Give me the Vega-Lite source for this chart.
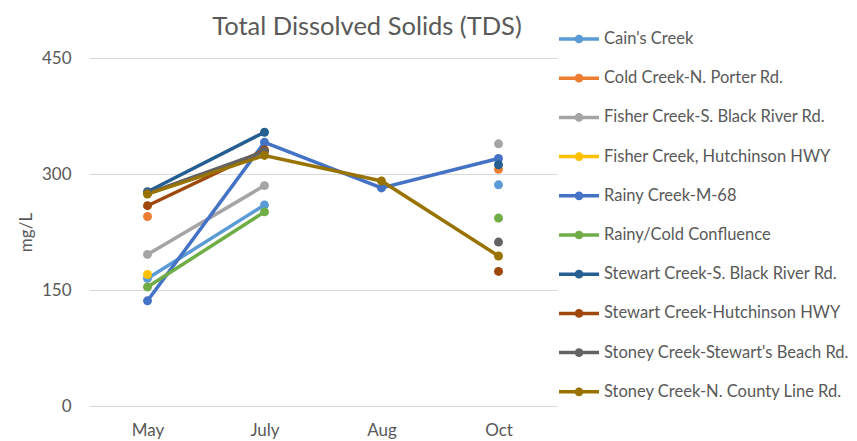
{
  "$schema": "https://vega.github.io/schema/vega-lite/v6.json",
  "width": 468,
  "height": 348,
  "autosize": "none",
  "padding": {"left": 89, "top": 58, "right": 300, "bottom": 35},
  "background": "white",
  "title": {
    "text": "Total Dissolved Solids (TDS)",
    "font": "Lato",
    "fontSize": 25.5,
    "fontWeight": "normal",
    "color": "#595959",
    "anchor": "middle",
    "frame": "group",
    "baseline": "alphabetic",
    "dx": 44,
    "dy": 26,
    "offset": -17
  },
  "data": {
    "values": [
      {"site": "Cain's Creek", "month": "May", "tds": 165},
      {"site": "Cain's Creek", "month": "July", "tds": 260},
      {"site": "Cain's Creek", "month": "Aug", "tds": null},
      {"site": "Cain's Creek", "month": "Oct", "tds": 286},
      {"site": "Cold Creek-N. Porter Rd.", "month": "May", "tds": 245},
      {"site": "Cold Creek-N. Porter Rd.", "month": "July", "tds": null},
      {"site": "Cold Creek-N. Porter Rd.", "month": "Aug", "tds": null},
      {"site": "Cold Creek-N. Porter Rd.", "month": "Oct", "tds": 306},
      {"site": "Fisher Creek-S. Black River Rd.", "month": "May", "tds": 196},
      {"site": "Fisher Creek-S. Black River Rd.", "month": "July", "tds": 285},
      {"site": "Fisher Creek-S. Black River Rd.", "month": "Aug", "tds": null},
      {"site": "Fisher Creek-S. Black River Rd.", "month": "Oct", "tds": 339},
      {"site": "Fisher Creek, Hutchinson HWY", "month": "May", "tds": 170},
      {"site": "Fisher Creek, Hutchinson HWY", "month": "July", "tds": null},
      {"site": "Rainy Creek-M-68", "month": "May", "tds": 136},
      {"site": "Rainy Creek-M-68", "month": "July", "tds": 341},
      {"site": "Rainy Creek-M-68", "month": "Aug", "tds": 282},
      {"site": "Rainy Creek-M-68", "month": "Oct", "tds": 320},
      {"site": "Rainy/Cold Confluence", "month": "May", "tds": 154},
      {"site": "Rainy/Cold Confluence", "month": "July", "tds": 251},
      {"site": "Rainy/Cold Confluence", "month": "Aug", "tds": null},
      {"site": "Rainy/Cold Confluence", "month": "Oct", "tds": 243},
      {"site": "Stewart Creek-S. Black River Rd.", "month": "May", "tds": 277},
      {"site": "Stewart Creek-S. Black River Rd.", "month": "July", "tds": 354},
      {"site": "Stewart Creek-S. Black River Rd.", "month": "Aug", "tds": null},
      {"site": "Stewart Creek-S. Black River Rd.", "month": "Oct", "tds": 312},
      {"site": "Stewart Creek-Hutchinson HWY", "month": "May", "tds": 259},
      {"site": "Stewart Creek-Hutchinson HWY", "month": "July", "tds": 331},
      {"site": "Stewart Creek-Hutchinson HWY", "month": "Aug", "tds": null},
      {"site": "Stewart Creek-Hutchinson HWY", "month": "Oct", "tds": 174},
      {"site": "Stoney Creek-Stewart's Beach Rd.", "month": "May", "tds": 275},
      {"site": "Stoney Creek-Stewart's Beach Rd.", "month": "July", "tds": 329},
      {"site": "Stoney Creek-Stewart's Beach Rd.", "month": "Aug", "tds": null},
      {"site": "Stoney Creek-Stewart's Beach Rd.", "month": "Oct", "tds": 212},
      {"site": "Stoney Creek-N. County Line Rd.", "month": "May", "tds": 274},
      {"site": "Stoney Creek-N. County Line Rd.", "month": "July", "tds": 324},
      {"site": "Stoney Creek-N. County Line Rd.", "month": "Aug", "tds": 291},
      {"site": "Stoney Creek-N. County Line Rd.", "month": "Oct", "tds": 194}
    ]
  },
  "encoding": {
    "x": {
      "field": "month",
      "type": "ordinal",
      "sort": ["May", "July", "Aug", "Oct"],
      "scale": {"type": "point", "padding": 0.5},
      "axis": {
        "title": null,
        "labelAngle": 0,
        "domain": false,
        "ticks": false,
        "labelPadding": 16,
        "labelFontSize": 17,
        "labelColor": "#595959",
        "labelFont": "Lato"
      }
    },
    "y": {
      "field": "tds",
      "type": "quantitative",
      "scale": {"domain": [0, 450], "nice": false},
      "axis": {
        "title": "mg/L",
        "titleFont": "Lato",
        "titleFontSize": 17,
        "titleFontWeight": "normal",
        "titleColor": "#595959",
        "titlePadding": 6,
        "values": [0, 150, 300, 450],
        "domain": false,
        "ticks": false,
        "labelPadding": 18,
        "labelFontSize": 17,
        "labelColor": "#595959",
        "labelFont": "Lato",
        "gridColor": "#D9D9D9",
        "gridWidth": 1
      }
    },
    "color": {
      "field": "site",
      "type": "nominal",
      "scale": {
        "domain": ["Cain's Creek", "Cold Creek-N. Porter Rd.", "Fisher Creek-S. Black River Rd.", "Fisher Creek, Hutchinson HWY", "Rainy Creek-M-68", "Rainy/Cold Confluence", "Stewart Creek-S. Black River Rd.", "Stewart Creek-Hutchinson HWY", "Stoney Creek-Stewart's Beach Rd.", "Stoney Creek-N. County Line Rd."],
        "range": ["#5B9BD5", "#ED7D31", "#A5A5A5", "#FFC000", "#4472C4", "#70AD47", "#255E91", "#9E480E", "#636363", "#997300"]
      },
      "legend": {
        "title": null,
        "orient": "none",
        "legendX": 468,
        "legendY": -41,
        "padding": 0,
        "symbolType": "M-1,0L1,0M-0.13,0A0.13,0.13,0,1,0,0.13,0A0.13,0.13,0,1,0,-0.13,0Z",
        "symbolSize": 1600,
        "symbolStrokeWidth": 3.5,
        "labelFont": "Lato",
        "labelFontSize": 16.5,
        "labelColor": "#595959",
        "labelOffset": 3,
        "labelLimit": 400,
        "rowPadding": 7.2,
        "encode": {
          "symbols": {"update": {"fill": {"scale": "color", "field": "value"}, "fillOpacity": {"value": 1}}}
        }
      }
    }
  },
  "layer": [
    {
      "mark": {"type": "line", "strokeWidth": 3.5, "invalid": "break-paths-filter-domains"}
    },
    {
      "mark": {"type": "point", "filled": true, "size": 80, "opacity": 1, "invalid": "filter"}
    }
  ],
  "config": {
    "view": {"stroke": null},
    "font": "Lato"
  }
}
